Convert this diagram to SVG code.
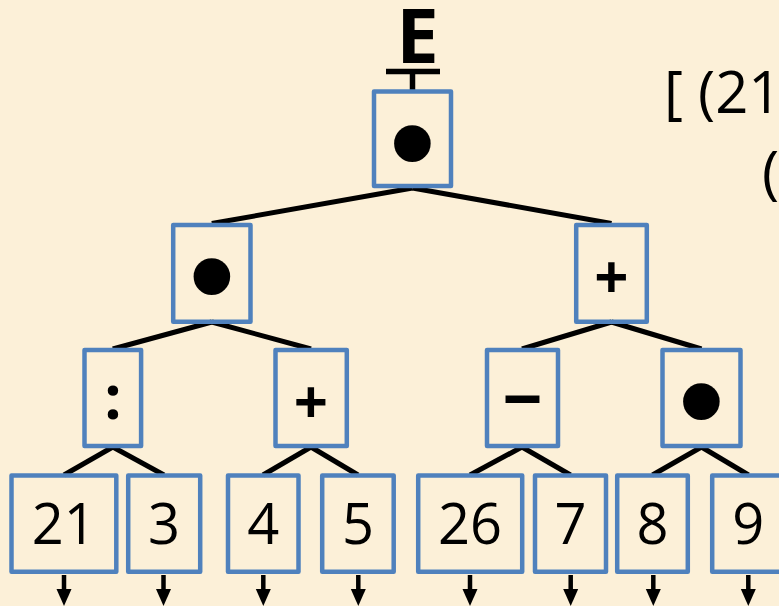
<svg xmlns="http://www.w3.org/2000/svg" width="779" height="606" viewBox="0 0 779 606">
<style>
.box{fill:none;stroke:#4F81BD;stroke-width:4.5;stroke-linejoin:round}
.edge{stroke:#000;stroke-width:5;fill:none;stroke-linecap:butt}
.num{font-family:"Open Sans","Liberation Sans",sans-serif;font-size:56px;fill:#000;text-anchor:middle}
.op{font-family:"Open Sans","Liberation Sans",sans-serif;font-weight:bold;fill:#000;text-anchor:middle}
.dot{font-family:"Liberation Sans",Arial,sans-serif;font-size:135px;fill:#000;text-anchor:middle}
.expr{font-family:"Open Sans","Liberation Sans",sans-serif;font-size:58px;fill:#000}
.arr{stroke:#000;stroke-width:4.5}
</style>
<defs>
<g id="arrow"><line class="arr" x1="0" y1="575" x2="0" y2="591"/><polygon points="-7.5,589 7.5,589 0,606" fill="#000"/></g>
</defs>
<rect width="779" height="606" fill="#FCF0D8"/>
<g id="title">
<text x="417.5" y="62.7" class="op" font-size="76">E</text>
<line x1="386" y1="71.5" x2="440" y2="71.5" stroke="#000" stroke-width="5.5"/>
<line x1="412.5" y1="71" x2="412.5" y2="90" stroke="#000" stroke-width="5.5"/>
</g>
<g id="expression">
<text x="664" y="113.3" class="expr">[ (21</text>
<text x="762" y="192.6" class="expr">(</text>
</g>
<g id="connectors">
<line class="edge" x1="412.5" y1="188" x2="211.8" y2="223.5"/>
<line class="edge" x1="412.5" y1="188" x2="611.5" y2="223.5"/>
<line class="edge" x1="211.8" y1="322" x2="112.8" y2="349"/>
<line class="edge" x1="211.8" y1="322" x2="311" y2="349"/>
<line class="edge" x1="611.5" y1="322" x2="522" y2="349"/>
<line class="edge" x1="611.5" y1="322" x2="701.5" y2="349"/>
<line class="edge" x1="112.8" y1="447" x2="64" y2="475"/>
<line class="edge" x1="112.8" y1="447" x2="164" y2="475"/>
<line class="edge" x1="311" y1="447" x2="263" y2="475"/>
<line class="edge" x1="311" y1="447" x2="358" y2="475"/>
<line class="edge" x1="522" y1="447" x2="470" y2="475"/>
<line class="edge" x1="522" y1="447" x2="570.5" y2="475"/>
<line class="edge" x1="701.5" y1="447" x2="652.5" y2="475"/>
<line class="edge" x1="701.5" y1="447" x2="748.5" y2="475"/>
<use href="#arrow" x="64"/>
<use href="#arrow" x="163.5"/>
<use href="#arrow" x="263.3"/>
<use href="#arrow" x="358.3"/>
<use href="#arrow" x="470"/>
<use href="#arrow" x="570.7"/>
<use href="#arrow" x="653.3"/>
<use href="#arrow" x="748.3"/>
</g>
<g id="n-root"><rect class="box" x="374" y="91.5" width="77" height="94.5"/><text x="412.5" y="189" class="dot">•</text></g>
<g id="n-mul1"><rect class="box" x="173.2" y="225" width="77.3" height="96.8"/><text x="211.8" y="321.5" class="dot">•</text></g>
<g id="n-add1"><rect class="box" x="576.2" y="225" width="70.6" height="96.8"/><text x="611.5" y="298.5" class="op" font-size="60">+</text></g>
<g id="n-div"><rect class="box" x="84.5" y="350" width="56.6" height="96"/><text x="113" y="419" class="op" font-size="61">:</text></g>
<g id="n-add2"><rect class="box" x="275.5" y="350" width="71.3" height="96"/><text x="311" y="423.5" class="op" font-size="60">+</text></g>
<g id="n-sub"><rect class="box" x="487" y="350" width="71" height="96"/><text x="522.5" y="424" class="op" font-size="70">−</text></g>
<g id="n-mul2"><rect class="box" x="662.5" y="350" width="78" height="96"/><text x="701.5" y="446.5" class="dot">•</text></g>
<g id="n-21"><rect class="box" x="11.5" y="475.5" width="104.8" height="96.3"/><text x="63.8" y="544" class="num">21</text></g>
<g id="n-3"><rect class="box" x="128.2" y="475.5" width="72" height="96.3"/><text x="164" y="544" class="num">3</text></g>
<g id="n-4"><rect class="box" x="228" y="475.5" width="70.5" height="96.3"/><text x="263.2" y="544" class="num">4</text></g>
<g id="n-5"><rect class="box" x="322.2" y="475.5" width="71.5" height="96.3"/><text x="358" y="544" class="num">5</text></g>
<g id="n-26"><rect class="box" x="418.2" y="475.5" width="104" height="96.3"/><text x="470" y="544" class="num">26</text></g>
<g id="n-7"><rect class="box" x="535" y="475.5" width="71" height="96.3"/><text x="570.5" y="544" class="num">7</text></g>
<g id="n-8"><rect class="box" x="617.2" y="475.5" width="70.6" height="96.3"/><text x="652.5" y="544" class="num">8</text></g>
<g id="n-9"><rect class="box" x="712.2" y="475.5" width="75" height="96.3"/><text x="748.3" y="544" class="num">9</text></g>
</svg>
